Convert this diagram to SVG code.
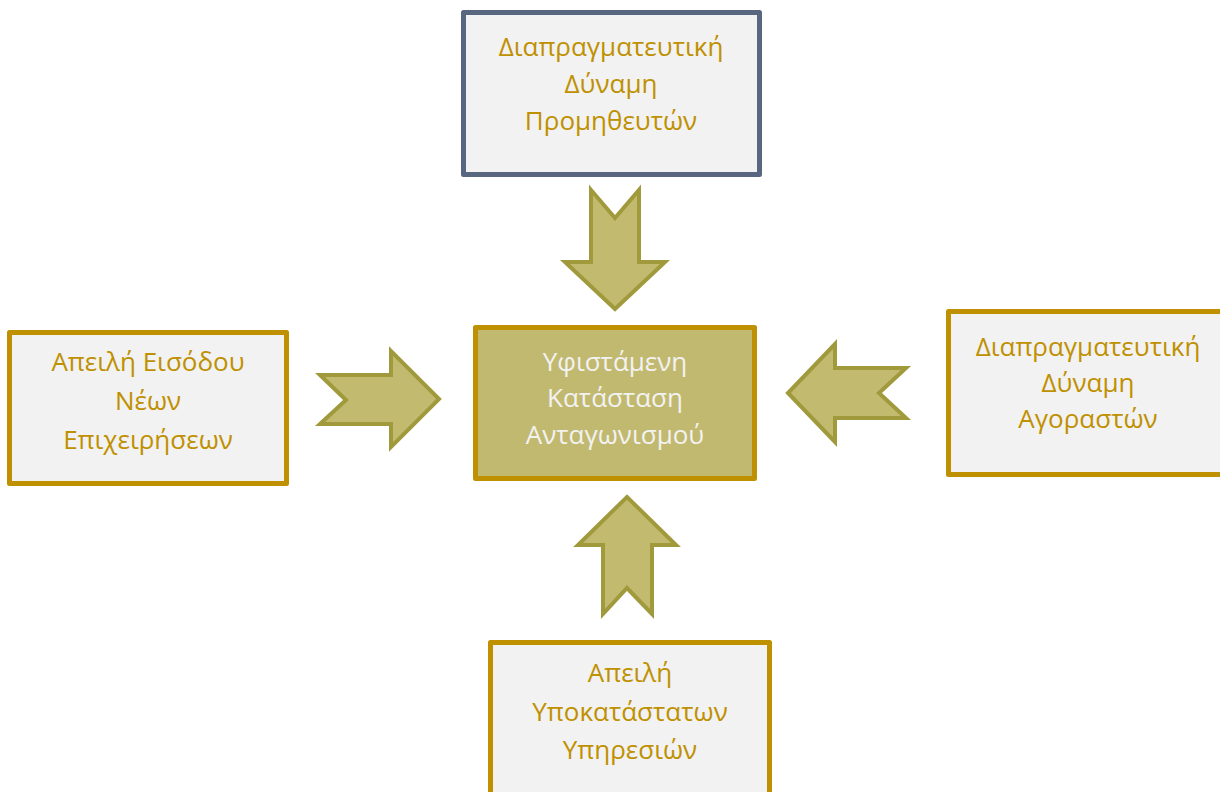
<svg xmlns="http://www.w3.org/2000/svg" width="1220" height="792" viewBox="0 0 1220 792">
<style>
.box{fill:#f2f2f2;stroke:#bf9000;stroke-width:5;stroke-linejoin:round}
.slate{stroke:#58677f}
.core{fill:#c2b970;stroke:#bf9000;stroke-width:5;stroke-linejoin:round}
.t{font-family:"Open Sans","Noto Sans",sans-serif;font-size:26px;fill:#bf9000;text-anchor:middle}
.tc{fill:#f2f2f2}
.arr{fill:#c2bb6f;stroke:#a19a3c;stroke-width:4;stroke-linejoin:miter}
</style>
<rect width="1220" height="792" fill="#ffffff"/>
<g id="suppliers">
<rect class="box slate" x="463.5" y="12.5" width="296" height="162"/>
<text class="t" x="611" y="56">Διαπραγματευτική</text>
<text class="t" x="611" y="93">Δύναμη</text>
<text class="t" x="611" y="130">Προμηθευτών</text>
</g>
<g id="entrants">
<rect class="box" x="9.5" y="332.5" width="277" height="151"/>
<text class="t" x="148" y="371">Απειλή Εισόδου</text>
<text class="t" x="148" y="410">Νέων</text>
<text class="t" x="148" y="449">Επιχειρήσεων</text>
</g>
<g id="rivalry">
<rect class="core" x="475.5" y="327.5" width="279" height="151"/>
<text class="t tc" x="615" y="371">Υφιστάμενη</text>
<text class="t tc" x="615" y="407">Κατάσταση</text>
<text class="t tc" x="615" y="444">Ανταγωνισμού</text>
</g>
<g id="buyers">
<rect class="box" x="948.5" y="311.5" width="282" height="163"/>
<text class="t" x="1088" y="356">Διαπραγματευτική</text>
<text class="t" x="1088" y="392">Δύναμη</text>
<text class="t" x="1088" y="428">Αγοραστών</text>
</g>
<g id="substitutes">
<rect class="box" x="490.5" y="642.5" width="279" height="170"/>
<text class="t" x="630" y="682">Απειλή</text>
<text class="t" x="630" y="721">Υποκατάστατων</text>
<text class="t" x="630" y="759">Υπηρεσιών</text>
</g>
<g id="connectors">
<polygon class="arr" points="591,190 615,218 639,190 639,262 665,262 615,309 565,262 591,262"/>
<polygon class="arr" points="320,375 391,375 391,351 439,399 391,447 391,424 320,424 346,400"/>
<polygon class="arr" points="906,368 835,368 835,344 788,393 835,442 835,418 906,418 879,393"/>
<polygon class="arr" points="603,614 627,588 652,614 652,545 676,545 627,497 578,545 603,545"/>
</g>
</svg>
